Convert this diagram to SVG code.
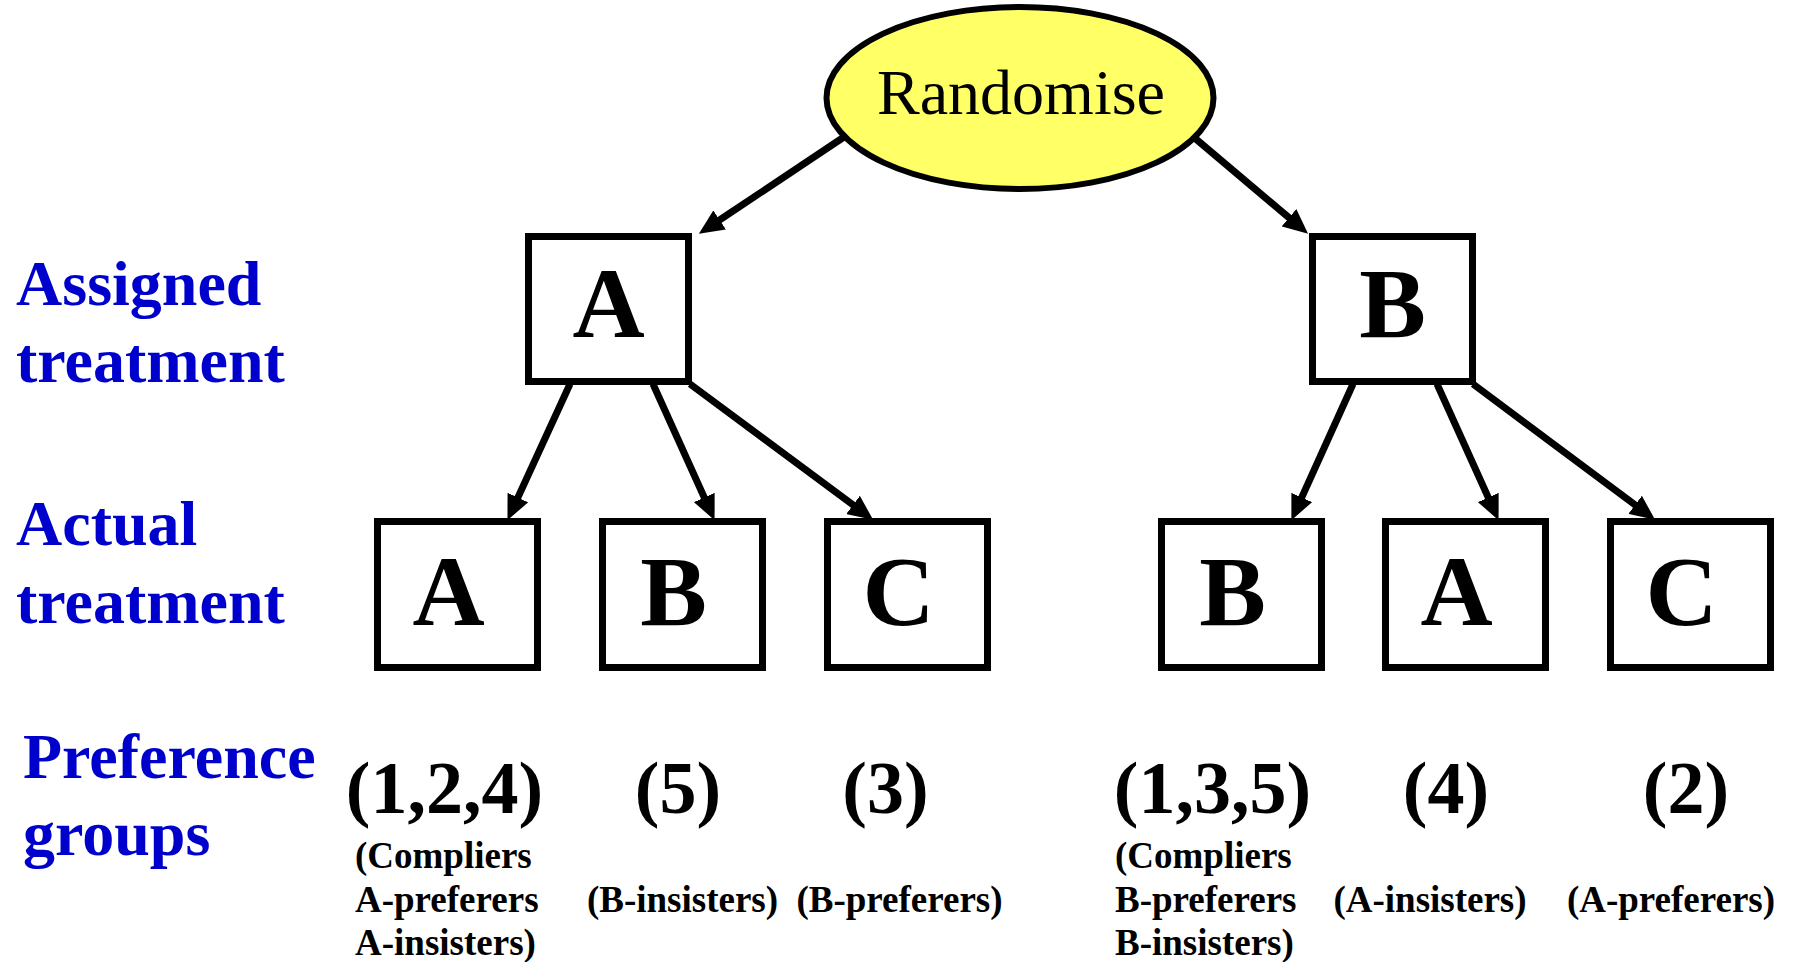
<svg xmlns="http://www.w3.org/2000/svg" width="1795" height="962" viewBox="0 0 1795 962">
  <style>
    .box { fill: #ffffff; stroke: #000000; stroke-width: 7; }
    .oval { fill: #ffff66; stroke: #000000; stroke-width: 6; }
    .edge { stroke: #000000; stroke-width: 7; fill: none; marker-end: url(#head); }
    .serif { font-family: "Liberation Serif", "Times New Roman", serif; }
    .letter { font-family: "Liberation Serif", "Times New Roman", serif; font-weight: bold; font-size: 100px; text-anchor: middle; fill: #000; }
    .side { font-family: "Liberation Serif", "Times New Roman", serif; font-weight: bold; font-size: 64px; fill: #0000cc; }
    .grp { font-family: "Liberation Serif", "Times New Roman", serif; font-weight: bold; font-size: 74px; text-anchor: middle; fill: #000; }
    .note { font-family: "Liberation Serif", "Times New Roman", serif; font-weight: bold; font-size: 37px; fill: #000; }
    .mid { text-anchor: middle; }
  </style>
  <defs>
    <marker id="head" markerUnits="userSpaceOnUse" markerWidth="25" markerHeight="23" refX="12" refY="10" orient="auto" viewBox="0 0 22 20">
      <path d="M0,0 L22,10 L0,20 z" fill="#000000"/>
    </marker>
  </defs>
  <rect width="1795" height="962" fill="#ffffff"/>

  <!-- row labels -->
  <g id="label-assigned">
    <text class="side" x="16" y="305">Assigned</text>
    <text class="side" x="16" y="382">treatment</text>
  </g>
  <g id="label-actual">
    <text class="side" x="16" y="545">Actual</text>
    <text class="side" x="16" y="623">treatment</text>
  </g>
  <g id="label-preference">
    <text class="side" x="23" y="778">Preference</text>
    <text class="side" x="23" y="855">groups</text>
  </g>

  <!-- connectors -->
  <g id="connectors">
    <line class="edge" x1="844" y1="137" x2="708.3" y2="227.5"/>
    <line class="edge" x1="1193.5" y1="137" x2="1299.4" y2="226.5"/>
    <line class="edge" x1="570" y1="384" x2="512.2" y2="509.9"/>
    <line class="edge" x1="653" y1="384" x2="709.9" y2="509.9"/>
    <line class="edge" x1="690" y1="384" x2="864" y2="513"/>
    <line class="edge" x1="1353" y1="384" x2="1296.1" y2="509.9"/>
    <line class="edge" x1="1437" y1="384" x2="1493.9" y2="509.9"/>
    <line class="edge" x1="1473" y1="384" x2="1646" y2="513"/>
  </g>

  <!-- root -->
  <g id="randomise">
    <ellipse class="oval" cx="1020" cy="98" rx="193.5" ry="91"/>
    <text class="serif" x="1021" y="114" font-size="64" text-anchor="middle">Randomise</text>
  </g>

  <!-- assigned treatment -->
  <g id="assigned-a">
    <rect class="box" x="528.5" y="236.5" width="160" height="145"/>
    <text class="letter" x="608.5" y="337">A</text>
  </g>
  <g id="assigned-b">
    <rect class="box" x="1312.5" y="236.5" width="160" height="145"/>
    <text class="letter" x="1392.5" y="337">B</text>
  </g>

  <!-- actual treatment -->
  <g id="actual-a1">
    <rect class="box" x="377.5" y="521.5" width="160" height="146"/>
    <text class="letter" x="448.5" y="625">A</text>
  </g>
  <g id="actual-b1">
    <rect class="box" x="602.5" y="521.5" width="160" height="146"/>
    <text class="letter" x="673.5" y="625">B</text>
  </g>
  <g id="actual-c1">
    <rect class="box" x="827.5" y="521.5" width="160" height="146"/>
    <text class="letter" x="898.5" y="625">C</text>
  </g>
  <g id="actual-b2">
    <rect class="box" x="1161.5" y="521.5" width="160" height="146"/>
    <text class="letter" x="1232.5" y="625">B</text>
  </g>
  <g id="actual-a2">
    <rect class="box" x="1385.5" y="521.5" width="160" height="146"/>
    <text class="letter" x="1456.5" y="625">A</text>
  </g>
  <g id="actual-c2">
    <rect class="box" x="1610.5" y="521.5" width="160" height="146"/>
    <text class="letter" x="1681.5" y="625">C</text>
  </g>

  <!-- preference groups -->
  <g id="groups-a1">
    <text class="grp" x="444.5" y="813">(1,2,4)</text>
    <text class="note" x="355" y="868">(Compliers</text>
    <text class="note" x="355" y="912">A-preferers</text>
    <text class="note" x="355" y="955">A-insisters)</text>
  </g>
  <g id="groups-b1">
    <text class="grp" x="678" y="813">(5)</text>
    <text class="note mid" x="682.5" y="912">(B-insisters)</text>
  </g>
  <g id="groups-c1">
    <text class="grp" x="885.5" y="813">(3)</text>
    <text class="note mid" x="899.5" y="912">(B-preferers)</text>
  </g>
  <g id="groups-b2">
    <text class="grp" x="1212.5" y="813">(1,3,5)</text>
    <text class="note" x="1115" y="868">(Compliers</text>
    <text class="note" x="1115" y="912">B-preferers</text>
    <text class="note" x="1115" y="955">B-insisters)</text>
  </g>
  <g id="groups-a2">
    <text class="grp" x="1446" y="813">(4)</text>
    <text class="note mid" x="1430" y="912">(A-insisters)</text>
  </g>
  <g id="groups-c2">
    <text class="grp" x="1686" y="813">(2)</text>
    <text class="note mid" x="1671" y="912">(A-preferers)</text>
  </g>
</svg>
